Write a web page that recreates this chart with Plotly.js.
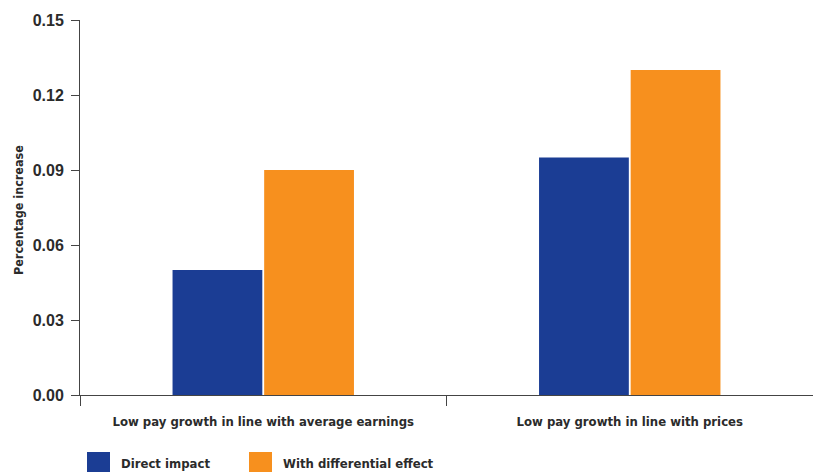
<!DOCTYPE html>
<html><head><meta charset="utf-8">
<script src="https://cdn.plot.ly/plotly-3.0.1.min.js"></script>
<style>html,body{margin:0;padding:0;background:#fff}#chart{width:813px;height:472px}</style>
</head><body><div id="chart"></div>
<script>
const categories = ["Low pay growth in line with average earnings", "Low pay growth in line with prices"];
const seriesNames = ["Direct impact", "With differential effect"];
const directImpact = [0.05, 0.095];
const differentialEffect = [0.09, 0.13];
const yTicks = [0, 0.03, 0.06, 0.09, 0.12, 0.15];
const yTickText = ["0.00", "0.03", "0.06", "0.09", "0.12", "0.15"];
const colors = ["#1b3d94", "#f7901e"];

const textColor = "#2b2b2b";
const condensed = "'DejaVu Sans Condensed', 'Liberation Sans Narrow', sans-serif";

const traces = [
  {type: "bar", name: seriesNames[0], x: categories, y: directImpact, marker: {color: colors[0]}, showlegend: false, hoverinfo: "skip"},
  {type: "bar", name: seriesNames[1], x: categories, y: differentialEffect, marker: {color: colors[1]}, showlegend: false, hoverinfo: "skip"}
];

const L = 80, R = 813, T = 20, B = 395;
const legendX = [87, 249];
const shapes = [];
const annotations = [];
function px2x(p){ return (p - L) / (R - L); }
function px2y(p){ return (B - p) / (B - T); }
seriesNames.forEach((n, i) => {
  shapes.push({type: "rect", xref: "paper", yref: "paper", x0: px2x(legendX[i]), x1: px2x(legendX[i] + 23), y0: px2y(472), y1: px2y(452), fillcolor: colors[i], line: {width: 0}});
  annotations.push({xref: "paper", yref: "paper", x: px2x(legendX[i] + 32), y: px2y(463), xanchor: "left", yanchor: "middle", showarrow: false, text: n, font: {family: condensed, size: 13, color: textColor, weight: "bold"}});
});
annotations.push({xref: "paper", yref: "paper", x: px2x(19), y: px2y(210), xanchor: "center", yanchor: "middle", textangle: -90, showarrow: false, text: "Percentage increase", font: {family: condensed, size: 12.5, color: textColor, weight: "bold"}});

const layout = {
  width: 813, height: 472,
  margin: {l: L, r: 813 - R, t: T, b: 472 - B},
  paper_bgcolor: "#fff", plot_bgcolor: "#fff",
  barmode: "group", bargap: 0.5, bargroupgap: 0.02,
  showlegend: false,
  xaxis: {
    type: "category", showline: true, linecolor: "#444", linewidth: 1,
    ticks: "outside", tickson: "boundaries", ticklen: 10, tickcolor: "#444",
    showgrid: false, zeroline: false, ticklabelstandoff: 14,
    tickfont: {family: condensed, size: 13, color: textColor, weight: "bold"}
  },
  yaxis: {
    range: [0, 0.15], tickvals: yTicks, ticktext: yTickText,
    showline: true, linecolor: "#444", linewidth: 1,
    ticks: "outside", ticklen: 8, tickcolor: "#444",
    showgrid: false, zeroline: false, ticklabelstandoff: 4,
    tickfont: {family: "'Liberation Sans', Arial, sans-serif", size: 16, color: textColor, weight: "bold"}
  },
  shapes: shapes,
  annotations: annotations
};
Plotly.newPlot("chart", traces, layout, {staticPlot: true, displayModeBar: false});
</script></body></html>
